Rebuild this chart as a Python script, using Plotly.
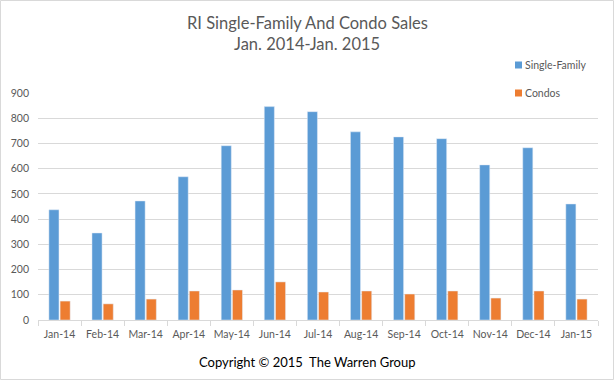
import plotly.graph_objects as go

months = ["Jan-14", "Feb-14", "Mar-14", "Apr-14", "May-14", "Jun-14", "Jul-14",
          "Aug-14", "Sep-14", "Oct-14", "Nov-14", "Dec-14", "Jan-15"]
single_family = [437, 345, 472, 568, 691, 846, 826, 746, 726, 719, 615, 683, 460]
condos = [75, 64, 83, 115, 119, 151, 111, 115, 103, 115, 87, 115, 83]
y_ticks = [0, 100, 200, 300, 400, 500, 600, 700, 800, 900]
series_names = ["Single-Family", "Condos"]
series_colors = ["#5B9BD5", "#ED7D31"]

W, H = 614, 380
L, R, T, B = 38, 16, 93, 60
pw, ph = W - L - R, H - T - B

def px_x(x):
    return (x - L) / pw

def px_y(y):
    return (H - B - y) / ph

fig = go.Figure()
for name, vals, col in zip(series_names, [single_family, condos], series_colors):
    fig.add_trace(go.Bar(x=months, y=vals, name=name, marker_color=col, showlegend=False))

font = "Lato, 'Open Sans', sans-serif"

shapes = [dict(type="rect", xref="paper", yref="paper",
               x0=-(L - 0.5) / pw, x1=(pw + R - 0.5) / pw,
               y0=-(B - 0.5) / ph, y1=(ph + T - 0.5) / ph,
               line=dict(color="#D9D9D9", width=1))]
annotations = [
    dict(text="RI Single-Family And Condo Sales", xref="paper", yref="paper",
         x=px_x(307), y=px_y(23), xanchor="center", yanchor="middle", showarrow=False,
         font=dict(size=16.5, color="#595959", family=font)),
    dict(text="Jan. 2014-Jan. 2015", xref="paper", yref="paper",
         x=px_x(307), y=px_y(44), xanchor="center", yanchor="middle", showarrow=False,
         font=dict(size=16.5, color="#595959", family=font)),
    dict(text="Copyright © 2015  The Warren Group", xref="paper", yref="paper",
         x=px_x(307), y=px_y(362), xanchor="center", yanchor="middle",
         showarrow=False, font=dict(size=13, color="#000000", family=font)),
]
for i, (name, col) in enumerate(zip(series_names, series_colors)):
    cy = 65 + 28 * i
    shapes.append(dict(type="rect", xref="paper", yref="paper",
                       x0=px_x(515), x1=px_x(522), y0=px_y(cy + 3.5), y1=px_y(cy - 3.5),
                       fillcolor=col, line=dict(width=0)))
    annotations.append(dict(text=name, xref="paper", yref="paper", x=px_x(522.5), y=px_y(cy),
                            xanchor="left", yanchor="middle", showarrow=False,
                            font=dict(size=10.5, color="#595959", family=font)))

fig.update_layout(
    width=W, height=H,
    margin=dict(l=L, r=R, t=T, b=B, autoexpand=False),
    paper_bgcolor="white", plot_bgcolor="white",
    barmode="group", bargap=0.48, bargroupgap=0.1,
    font=dict(family=font, color="#595959", size=11),
    showlegend=False,
    xaxis=dict(showgrid=False, showline=True, linecolor="#D9D9D9", linewidth=1,
               ticks="outside", tickson="boundaries", tickcolor="#D9D9D9", ticklen=5,
               tickangle=0, automargin=False, ticklabelstandoff=4,
               tickfont=dict(size=10.5, color="#595959")),
    yaxis=dict(range=[0, 900], tickvals=y_ticks, showgrid=True, gridcolor="#D9D9D9",
               zeroline=False, showline=False, tickfont=dict(size=10.5, color="#595959"),
               ticks="", ticklabelstandoff=8, automargin=False),
    annotations=annotations,
    shapes=shapes,
)

fig.write_html("out.html", post_script="document.body.style.margin='0px';",
               config={"displayModeBar": False})
